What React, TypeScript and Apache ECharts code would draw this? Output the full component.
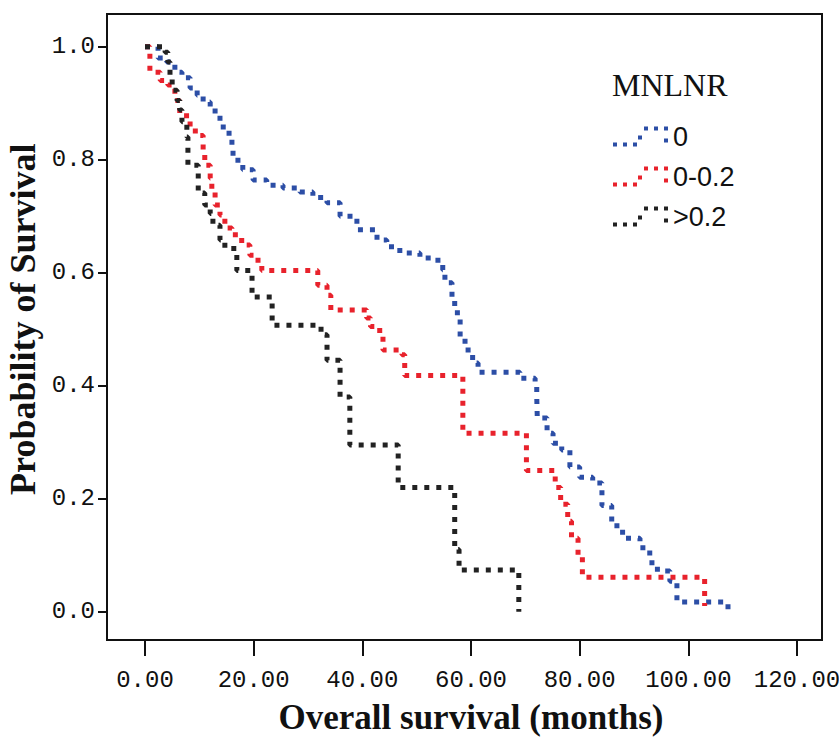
import React, { useEffect, useRef } from "react";
import * as echarts from "echarts";

// Kaplan-Meier step points: time (months) and survival
const groupNames = ["0", "0-0.2", ">0.2"];
const groupColors = ["#2c4ea6", "#e8222c", "#222222"];

const blueTimes = [0, 2.4, 4.0, 5.5, 6.8, 8.3, 9.6, 10.7, 12.0, 12.9, 13.8, 14.4, 16.0, 16.2, 18.0, 19.9, 22.4, 25.4, 28.5, 30.9, 33.5, 35.9, 39.0, 42.7, 44.5, 46.9, 50.6, 53.0, 54.8, 55.2, 56.5, 57.0, 58.0, 58.9, 60.3, 61.3, 69.0, 71.8, 72.1, 72.2, 74.0, 75.1, 76.7, 78.2, 80.0, 82.4, 84.1, 85.9, 87.9, 91.1, 92.9, 93.3, 95.3, 96.6, 97.9, 107.3];
const blueSurv = [1.0, 0.98, 0.973, 0.955, 0.945, 0.927, 0.914, 0.902, 0.891, 0.879, 0.865, 0.847, 0.822, 0.799, 0.782, 0.764, 0.755, 0.75, 0.743, 0.733, 0.724, 0.70, 0.676, 0.658, 0.646, 0.635, 0.626, 0.622, 0.605, 0.582, 0.552, 0.529, 0.486, 0.463, 0.44, 0.424, 0.413, 0.405, 0.38, 0.343, 0.316, 0.298, 0.286, 0.256, 0.238, 0.228, 0.188, 0.152, 0.13, 0.113, 0.093, 0.075, 0.072, 0.054, 0.017, 0.0];

const redTimes = [0, 0.9, 2.8, 4.2, 5.5, 6.4, 8.3, 10.1, 10.7, 11.0, 12.0, 12.3, 12.9, 13.8, 14.7, 16.0, 17.8, 19.3, 20.8, 21.5, 31.8, 33.5, 34.2, 40.8, 41.5, 43.2, 43.8, 47.3, 47.8, 58.5, 70.2, 75.5, 76.5, 77.8, 78.5, 79.7, 80.5, 103.0];
const redSurv = [1.0, 0.955, 0.94, 0.932, 0.905, 0.878, 0.851, 0.843, 0.817, 0.79, 0.767, 0.743, 0.72, 0.702, 0.679, 0.667, 0.649, 0.631, 0.614, 0.604, 0.578, 0.56, 0.534, 0.52, 0.505, 0.49, 0.463, 0.455, 0.418, 0.316, 0.25, 0.22, 0.19, 0.16, 0.13, 0.10, 0.061, 0.01];

const blackTimes = [0, 3.7, 4.2, 4.6, 5.0, 5.9, 6.4, 6.8, 7.7, 7.9, 9.8, 11.0, 12.0, 12.5, 13.8, 14.7, 16.9, 19.7, 23.4, 32.4, 33.5, 35.9, 37.7, 46.6, 57.0, 57.8, 68.8];
const blackSurv = [1.0, 0.99, 0.973, 0.95, 0.923, 0.905, 0.888, 0.867, 0.84, 0.79, 0.741, 0.72, 0.705, 0.684, 0.658, 0.643, 0.604, 0.557, 0.507, 0.49, 0.445, 0.38, 0.295, 0.22, 0.11, 0.074, 0.0];

const xTickMin = 0;
const xTickMax = 120;
const xTickStep = 20;
const yTickMin = 0;
const yTickMax = 1;
const yTickStep = 0.2;

const legendIconPath =
  "path://M0 16h4v4h-4z M10 16h4v4h-4z M20 16h4v4h-4z M25 9h4v4h-4z M31 0h4v4h-4z M41 0h4v4h-4z M51 0h4v4h-4z M51 12h4v4h-4z";

function pairs(t: number[], s: number[]) {
  return t.map((v, i) => [v, s[i]]);
}

export default function App() {
  const ref = useRef<HTMLDivElement>(null);
  useEffect(() => {
    if (!ref.current) return;
    const chart = echarts.init(ref.current, undefined, { renderer: "svg" });
    const datasets = [pairs(blueTimes, blueSurv), pairs(redTimes, redSurv), pairs(blackTimes, blackSurv)];
    const tickFont = "Liberation Mono";
    const hidden = { show: false };
    const xBase = { type: "value", min: xTickMin, max: xTickMax, interval: xTickStep, splitLine: hidden };
    const yBase = { type: "value", min: yTickMin, max: yTickMax, interval: yTickStep, splitLine: hidden };
    const gridBase = { outerBoundsMode: "none", containLabel: false };
    chart.setOption({
      animation: false,
      backgroundColor: "#ffffff",
      title: {
        text: "MNLNR",
        left: 607,
        top: 64,
        textStyle: { fontFamily: "Liberation Serif", fontWeight: "normal", fontSize: 32, color: "#111" },
      },
      legend: {
        orient: "vertical",
        left: 608,
        top: 118,
        itemWidth: 55,
        itemHeight: 20,
        itemGap: 13,
        icon: legendIconPath,
        itemStyle: { borderWidth: 0 },
        data: groupNames,
        textStyle: { fontFamily: "Liberation Sans", fontSize: 27, color: "#111" },
      },
      grid: [
        // plotting area (value range)
        { ...gridBase, left: 145, right: 42, top: 46.7, bottom: 125.3 },
        // x axis drawn along the bottom of the frame
        { ...gridBase, left: 145, right: 42, top: 46.7, bottom: 97 },
        // y axis drawn along the left of the frame
        { ...gridBase, left: 107, right: 42, top: 46.7, bottom: 125.3 },
      ],
      xAxis: [
        { ...xBase, gridIndex: 0, show: false },
        {
          ...xBase,
          gridIndex: 1,
          position: "bottom",
          axisLine: hidden,
          axisTick: { show: true, length: 16, lineStyle: { color: "#111", width: 2 } },
          axisLabel: {
            formatter: (v: number) => v.toFixed(2),
            margin: 28,
            fontFamily: tickFont,
            fontSize: 24,
            color: "#111",
          },
          name: "Overall survival (months)",
          nameLocation: "middle",
          nameGap: 60,
          nameTextStyle: { fontFamily: "Liberation Serif", fontWeight: "bold", fontSize: 35, color: "#111" },
        },
        { ...xBase, gridIndex: 2, show: false },
      ],
      yAxis: [
        { ...yBase, gridIndex: 0, show: false },
        { ...yBase, gridIndex: 1, show: false },
        {
          ...yBase,
          gridIndex: 2,
          position: "left",
          axisLine: hidden,
          axisTick: { show: true, length: 9, lineStyle: { color: "#111", width: 2 } },
          axisLabel: {
            formatter: (v: number) => v.toFixed(1),
            margin: 12,
            fontFamily: tickFont,
            fontSize: 24,
            color: "#111",
          },
          name: "Probability of Survival",
          nameLocation: "middle",
          nameGap: 60,
          nameRotate: 90,
          nameTextStyle: {
            fontFamily: "Liberation Serif",
            fontWeight: "bold",
            fontSize: 36,
            color: "#111",
            padding: [0, 0, 0, 20],
          },
        },
      ],
      graphic: [
        {
          type: "rect",
          silent: true,
          z: 100,
          shape: { x: 107, y: 14, width: 715, height: 626 },
          style: { fill: "none", stroke: "#111", lineWidth: 2 },
        },
      ],
      series: groupNames.map((name, i) => ({
        name,
        type: "line",
        xAxisIndex: 0,
        yAxisIndex: 0,
        step: "end",
        data: datasets[i],
        showSymbol: false,
        clip: false,
        color: groupColors[i],
        itemStyle: { color: groupColors[i] },
        lineStyle: { color: groupColors[i], width: 5, type: [5, 7], cap: "butt" },
        z: 2 + i,
      })),
    });
    return () => chart.dispose();
  }, []);
  return (
    <div
      ref={ref}
      style={{ position: "absolute", left: 0, top: 0, width: 839, height: 737 }}
    />
  );
}
